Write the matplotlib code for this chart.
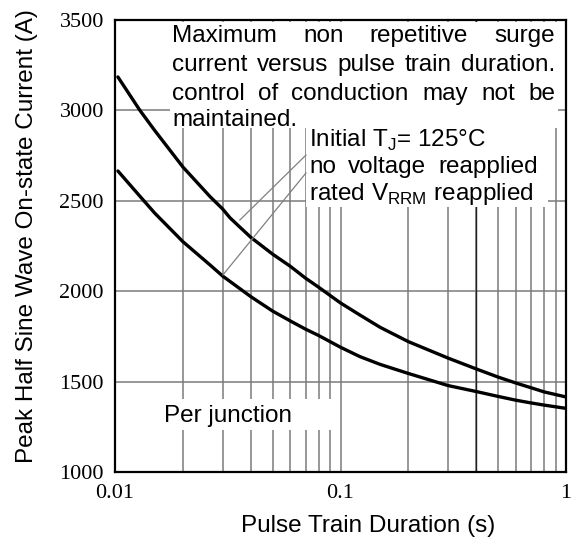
import matplotlib
matplotlib.use("Agg")
import matplotlib.pyplot as plt
from matplotlib.patches import Rectangle
from matplotlib.ticker import LogLocator, NullFormatter, FixedLocator, FixedFormatter

plt.rcParams["font.family"] = ["Liberation Sans", "DejaVu Sans"]
plt.rcParams["mathtext.fontset"] = "custom"
plt.rcParams["mathtext.rm"] = "Liberation Sans"

W, H = 574, 539

# courbe haute : pas de tension réappliquée
t_sans = [0.0103, 0.0129, 0.015, 0.02, 0.0264, 0.03, 0.0324, 0.04, 0.05, 0.06,
          0.07, 0.08, 0.1, 0.122, 0.15, 0.2, 0.3, 0.4, 0.5, 0.6, 0.7, 0.8, 1.0]
i_sans = [3185, 3000, 2889, 2687, 2523, 2455, 2405, 2298, 2205, 2137,
          2072, 2022, 1935, 1868, 1800, 1721, 1630, 1570, 1525, 1492, 1466, 1443, 1415]

# courbe basse : VRRM réappliquée
t_vrrm = [0.0103, 0.0129, 0.015, 0.02, 0.0264, 0.03, 0.04, 0.05, 0.06, 0.07,
          0.08, 0.1, 0.122, 0.15, 0.2, 0.3, 0.4, 0.5, 0.6, 0.7, 0.8, 1.0]
i_vrrm = [2665, 2525, 2432, 2274, 2145, 2084, 1970, 1890, 1835, 1790,
          1755, 1690, 1638, 1595, 1545, 1478, 1445, 1418, 1397, 1382, 1370, 1352]

# traits de repère vers la légende
rep_sans = ([0.0358, 0.0703], [2394, 2753])
rep_vrrm = ([0.0301, 0.0703], [2090, 2654])

x_ticks = [0.01, 0.1, 1]
x_labels = ["0.01", "0.1", "1"]
y_ticks = [1000, 1500, 2000, 2500, 3000, 3500]

titre = ["Maximum non repetitive surge",
         "current versus pulse train duration.",
         "control of conduction may not be",
         "maintained."]
legende = ["Initial T$_\\mathregular{J}$= 125°C",
           "no voltage reapplied",
           "rated V$_\\mathregular{RRM}$ reapplied"]


def px(x, y):
    return x / W, 1 - y / H


fig = plt.figure(figsize=(W / 100, H / 100), dpi=100)
ax = fig.add_axes([115 / W, 1 - 472 / H, 451 / W, 452 / H])
ax.set_xscale("log")
ax.set_xlim(0.01, 1)
ax.set_ylim(1000, 3500)

ax.xaxis.set_major_locator(FixedLocator(x_ticks))
ax.xaxis.set_major_formatter(FixedFormatter(x_labels))
ax.xaxis.set_minor_locator(LogLocator(base=10, subs=range(2, 10)))
ax.xaxis.set_minor_formatter(NullFormatter())
ax.set_yticks(y_ticks)
ax.tick_params(which="both", length=0)
ax.tick_params(axis="x", pad=9)
ax.tick_params(axis="y", pad=8)
for lab in ax.get_xticklabels() + ax.get_yticklabels():
    lab.set_fontfamily("Liberation Serif")
    lab.set_fontsize(16)

ax.set_axisbelow(True)
ax.grid(True, which="both", color="#7a7a7a", lw=1.1)
ax.axvline(0.4, color="#202020", lw=1.0, zorder=0.6)
for s in ax.spines.values():
    s.set_linewidth(1.6)
    s.set_zorder(5)

ax.plot(t_sans, i_sans, color="black", lw=2.4, zorder=3, solid_capstyle="round")
ax.plot(t_vrrm, i_vrrm, color="black", lw=2.4, zorder=3, solid_capstyle="round")
ax.plot(*rep_sans, color="#808080", lw=0.9, zorder=3)
ax.plot(*rep_vrrm, color="#808080", lw=0.9, zorder=3)

# cadres blancs sous les textes
for (x0, y0, x1, y1) in [(170, 22, 558, 128), (306, 128, 548, 207), (162, 399, 332, 430)]:
    ax.add_patch(Rectangle(px(x0, y1), (x1 - x0) / W, (y1 - y0) / H,
                           transform=fig.transFigure, facecolor="white",
                           edgecolor="none", zorder=2, clip_on=False))

renderer = fig.canvas.get_renderer()
FS = 17.5


def ligne(texte, x0, y, x1=None):
    mots = texte.split(" ")
    if x1 is None or len(mots) == 1:
        fig.text(*px(x0, y), texte, fontsize=FS, va="baseline", ha="left")
        return
    objs = [fig.text(*px(x0, y), m, fontsize=FS, va="baseline", ha="left") for m in mots]
    larg = [o.get_window_extent(renderer).width for o in objs]
    gap = (x1 - x0 - sum(larg)) / (len(mots) - 1)
    x = x0
    for o, w in zip(objs, larg):
        o.set_position(px(x, y))
        x += w + gap


ligne(titre[0], 172, 42, 555)
ligne(titre[1], 172, 71, 555)
ligne(titre[2], 172, 100, 555)
ligne(titre[3], 172, 126)
ligne(legende[0], 309, 147)
ligne(legende[1], 309, 173, 538)
ligne(legende[2], 309, 200)
ligne("Per junction", 164, 422)

fig.text(*px(368, 532), "Pulse Train Duration (s)", fontsize=17.5, ha="center", va="baseline")
fig.text(*px(27, 236), "Peak Half Sine Wave On-state Current (A)", fontsize=17.5,
         ha="center", va="center", rotation=90)

fig.savefig("out.png", dpi=100)
